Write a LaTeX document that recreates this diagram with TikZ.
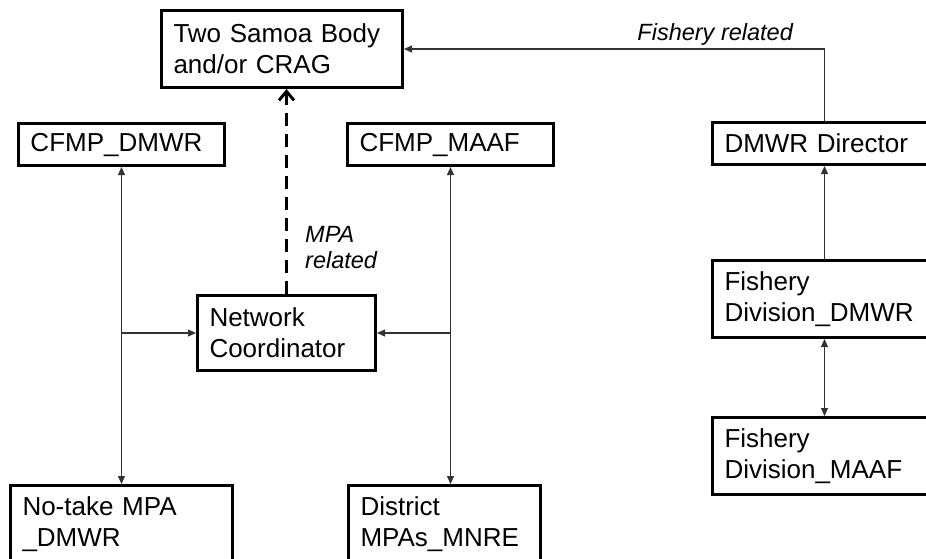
\documentclass[tikz,border=0pt]{standalone}
\usepackage{fontspec}
\setmainfont{Liberation Sans}
\usetikzlibrary{arrows.meta}
\begin{document}
\begin{tikzpicture}[x=1pt,y=-1pt,
  box/.style={draw=black, line width=3pt, anchor=north west, align=left,
    inner xsep=12pt, inner ysep=0pt, font=\fontsize{26}{31}\selectfont},
  conn/.style={draw=black!80, line width=1.1pt},
  tip/.style={-{Triangle[length=8pt,width=7pt]}},
  lbl/.style={font=\fontsize{23.5}{26}\selectfont\itshape, align=left, inner sep=2pt}]
\useasboundingbox (0,0) rectangle (926,558);
\clip (0,0) rectangle (926,558);
\fill[white] (0,0) rectangle (926,558);
% boxes
\node[box, text width=217pt, minimum height=77pt] (top) at (160,9) {Two Samoa Body\\and/or CRAG};
\node[box, text width=182pt, minimum height=42pt] (cfd) at (17,122) {CFMP\_DMWR};
\node[box, text width=182pt, minimum height=42pt] (cfm) at (346,122) {CFMP\_MAAF};
\node[box, text width=200pt, minimum height=42pt] (dir) at (711,121) {DMWR Director};
\node[box, text width=154pt, minimum height=75pt] (nc) at (196,294) {Network\\Coordinator};
\node[box, text width=200pt, minimum height=77pt] (fdd) at (711,259) {Fishery\\Division\_DMWR};
\node[box, text width=200pt, minimum height=77pt] (fdm) at (711,416) {Fishery\\Division\_MAAF};
\node[box, text width=198pt, minimum height=77pt] (nt) at (9,484) {No-take MPA\\\_DMWR};
\node[box, text width=168pt, minimum height=77pt] (dist) at (347,484) {District\\MPAs\_MNRE};
% junctions
\coordinate (jl) at (cfd.south |- nc.west);
\coordinate (jr) at (cfm.south |- nc.east);
% connectors
\draw[conn, {Triangle[length=8pt,width=7pt]}-{Triangle[length=8pt,width=7pt]}] (cfd.south) -- (cfd.south |- nt.north);
\draw[conn, tip] (jl) -- (nc.west);
\draw[conn, {Triangle[length=8pt,width=7pt]}-{Triangle[length=8pt,width=7pt]}] (cfm.south) -- (cfm.south |- dist.north);
\draw[conn, tip] (jr) -- (nc.east);
\draw[line width=3pt, dash pattern=on 13pt off 8pt, -{Straight Barb[length=9pt,width=15pt,line width=3pt]}] (nc.north) -- (nc.north |- top.south);
\draw[conn, tip] (dir.north) |- (top.east) node[lbl, above, pos=0.63, yshift=1pt] {Fishery related};
\draw[conn, tip] (fdd.north) -- (fdd.north |- dir.south);
\draw[conn, {Triangle[length=8pt,width=7pt]}-{Triangle[length=8pt,width=7pt]}] (fdd.south) -- (fdd.south |- fdm.north);
\node[lbl, anchor=west] (mpa) at (303,248) {MPA\\related};
\end{tikzpicture}
\end{document}
